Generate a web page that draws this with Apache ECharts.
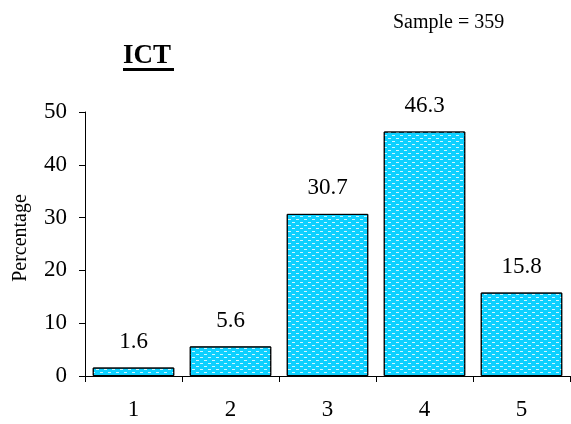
<!DOCTYPE html>
<html>
<head>
<meta charset="utf-8">
<script src="https://cdn.jsdelivr.net/npm/echarts@6/dist/echarts.min.js"></script>
<style>
  html, body { margin: 0; padding: 0; background: #fff; }
  #chart { width: 571px; height: 424px; }
</style>
</head>
<body>
<div id="chart"></div>
<script>
// Survey response distribution (scores 1–5)
const categories = ['1', '2', '3', '4', '5'];
const percentages = [1.6, 5.6, 30.7, 46.3, 15.8];
const yTicks = { min: 0, max: 50, interval: 10 };
const titleText = 'ICT';
const sampleText = 'Sample = 359';
const yAxisName = 'Percentage';

const serif = '"Liberation Serif", "Times New Roman", serif';
const chart = echarts.init(document.getElementById('chart'), null, { renderer: 'canvas' });

chart.setOption({
  backgroundColor: '#ffffff',
  animation: false,
  grid: { left: 85, right: 1, top: 112, bottom: 48 },
  graphic: [
    {
      type: 'text', left: 393, top: 13,
      style: { text: sampleText, font: '20px ' + serif, fill: '#000' }
    },
    {
      type: 'text', left: 123, top: 43,
      style: { text: titleText, font: 'bold 27px ' + serif, fill: '#000' }
    },
    {
      type: 'rect', left: 123, top: 68,
      shape: { width: 51, height: 3 },
      style: { fill: '#000' }
    },
    {
      // rotated y-axis title
      type: 'text', x: 21, y: 238, rotation: Math.PI / 2,
      style: {
        text: yAxisName, font: '20px ' + serif, fill: '#000',
        align: 'center', verticalAlign: 'middle'
      }
    }
  ],
  xAxis: {
    type: 'category',
    data: categories,
    axisLine: { lineStyle: { color: '#000', width: 1 } },
    axisTick: { show: true, alignWithLabel: false, length: 6, lineStyle: { color: '#000' } },
    axisLabel: { color: '#000', fontSize: 23, fontFamily: serif, margin: 22 }
  },
  yAxis: {
    type: 'value',
    min: yTicks.min, max: yTicks.max, interval: yTicks.interval,
    axisLine: { show: true, lineStyle: { color: '#000', width: 1 } },
    axisTick: { show: true, length: 6, lineStyle: { color: '#000' } },
    axisLabel: { color: '#000', fontSize: 23, fontFamily: serif, margin: 18 },
    splitLine: { show: false }
  },
  series: [{
    type: 'bar',
    data: percentages,
    barCategoryGap: '16%',
    itemStyle: {
      color: '#0cd0ff',
      borderColor: '#000',
      borderWidth: 1,
      decal: {
        symbol: 'rect',
        symbolSize: 1,
        color: 'rgba(255,255,255,0.8)',
        dashArrayX: [[3, 5], [0, 4, 3, 1]],
        dashArrayY: [1, 2],
        rotation: 0
      }
    },
    label: {
      show: true,
      position: 'top',
      distance: 14,
      color: '#000',
      fontSize: 23,
      fontFamily: serif,
      formatter: p => p.value.toFixed(1)
    }
  }]
});
</script>
</body>
</html>
